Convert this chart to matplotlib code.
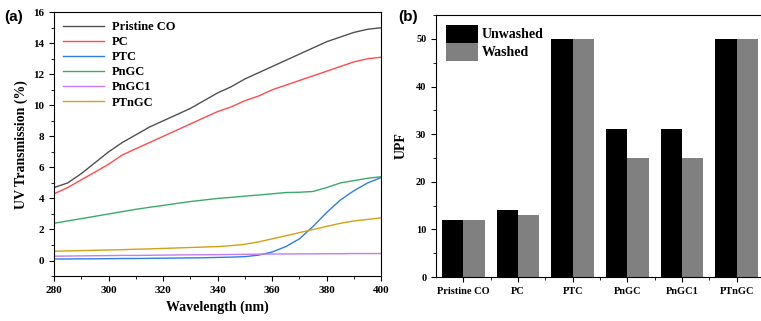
import matplotlib
matplotlib.use("Agg")
import matplotlib.pyplot as plt
import numpy as np
from matplotlib.ticker import MultipleLocator, FixedLocator

wl = [280, 285, 290, 295, 300, 305, 310, 315, 320, 325, 330, 335, 340, 345, 350,
      355, 360, 365, 370, 375, 380, 385, 390, 395, 400]
pristine = [4.7, 5.0, 5.6, 6.3, 7.0, 7.6, 8.1, 8.6, 9.0, 9.4, 9.8, 10.3, 10.8, 11.2, 11.7,
            12.1, 12.5, 12.9, 13.3, 13.7, 14.1, 14.4, 14.7, 14.9, 15.0]
pc = [4.3, 4.7, 5.2, 5.7, 6.2, 6.8, 7.2, 7.6, 8.0, 8.4, 8.8, 9.2, 9.6, 9.9, 10.3,
      10.6, 11.0, 11.3, 11.6, 11.9, 12.2, 12.5, 12.8, 13.0, 13.1]
ptc = [0.10, 0.10, 0.11, 0.11, 0.12, 0.13, 0.13, 0.14, 0.15, 0.16, 0.17, 0.18, 0.20, 0.22, 0.25,
       0.35, 0.55, 0.90, 1.40, 2.20, 3.10, 3.90, 4.50, 5.00, 5.35]
pngc = [2.40, 2.55, 2.70, 2.85, 3.00, 3.15, 3.30, 3.43, 3.55, 3.68, 3.80, 3.90, 4.00, 4.07, 4.15,
        4.22, 4.30, 4.38, 4.40, 4.45, 4.70, 5.00, 5.15, 5.30, 5.40]
pngc1 = [0.28, 0.29, 0.30, 0.31, 0.32, 0.33, 0.33, 0.34, 0.35, 0.36, 0.37, 0.37, 0.38, 0.39, 0.40,
         0.41, 0.42, 0.42, 0.43, 0.43, 0.44, 0.44, 0.45, 0.45, 0.45]
ptngc = [0.60, 0.62, 0.64, 0.66, 0.68, 0.70, 0.73, 0.75, 0.78, 0.81, 0.84, 0.87, 0.90, 0.96, 1.05,
         1.20, 1.40, 1.60, 1.80, 2.00, 2.20, 2.40, 2.55, 2.65, 2.75]

series_names = ["Pristine CO", "PC", "PTC", "PnGC", "PnGC1", "PTnGC"]
series_vals = [pristine, pc, ptc, pngc, pngc1, ptngc]
series_colors = ["#505050", "#ff4b4b", "#2f7de1", "#3aaa6a", "#c47cf0", "#d4a017"]

categories = ["Pristine CO", "PC", "PTC", "PnGC", "PnGC1", "PTnGC"]
unwashed = [12, 14, 50, 31, 31, 50]
washed = [12, 13, 50, 25, 25, 50]

serif = "Liberation Serif"
fig = plt.figure(figsize=(7.61, 3.21), dpi=100)

# ---- panel (a)
ax1 = fig.add_axes([0.071, 0.140, 0.430, 0.822])
for name, vals, c in zip(series_names, series_vals, series_colors):
    ax1.plot(wl, vals, color=c, lw=1.0, label=name)
ax1.set_xlim(280, 400)
ax1.set_ylim(-1, 16)
ax1.xaxis.set_major_locator(MultipleLocator(20))
ax1.xaxis.set_minor_locator(MultipleLocator(10))
ax1.yaxis.set_major_locator(MultipleLocator(2))
ax1.yaxis.set_minor_locator(MultipleLocator(1))
ax1.tick_params(which="both", direction="out", labelsize=8)
ax1.tick_params(which="major", length=3.5)
ax1.tick_params(which="minor", length=2)
for t in ax1.get_xticklabels() + ax1.get_yticklabels():
    t.set_fontfamily(serif); t.set_fontweight("bold")
ax1.set_xlabel("Wavelength (nm)", fontfamily=serif, fontweight="bold", fontsize=10)
ax1.set_ylabel("UV Transmission (%)", fontfamily=serif, fontweight="bold", fontsize=10, labelpad=4)
leg = ax1.legend(loc="upper left", frameon=False, handlelength=3.3, handletextpad=0.6,
                 labelspacing=0.25, borderaxespad=0.3,
                 prop={"family": serif, "weight": "bold", "size": 9})
fig.text(0.005, 0.935, "(a)", fontfamily="Liberation Sans", fontweight="bold", fontsize=11)

# ---- panel (b)
ax2 = fig.add_axes([0.573, 0.137, 0.431, 0.816])
x = np.arange(len(categories))
w = 0.39
ax2.bar(x - w / 2, unwashed, width=w, color="black", label="Unwashed")
ax2.bar(x + w / 2, washed, width=w, color="#808080", label="Washed")
ax2.set_xlim(-0.5, len(categories) - 0.5)
ax2.set_ylim(0, 55)
ax2.set_xticks(x)
ax2.set_xticklabels(categories)
ax2.xaxis.set_minor_locator(FixedLocator(x[:-1] + 0.5))
ax2.yaxis.set_major_locator(MultipleLocator(10))
ax2.yaxis.set_minor_locator(MultipleLocator(5))
ax2.tick_params(which="both", direction="out", labelsize=7.5)
ax2.tick_params(which="major", length=3.5)
ax2.tick_params(which="minor", length=2)
for t in ax2.get_xticklabels() + ax2.get_yticklabels():
    t.set_fontfamily(serif); t.set_fontweight("bold")
ax2.set_ylabel("UPF", fontfamily=serif, fontweight="bold", fontsize=10, labelpad=6)
ax2.legend(loc="upper left", frameon=False, handlelength=2.3, handleheight=1.6,
           handletextpad=0.3, labelspacing=0.0, borderaxespad=0.3,
           prop={"family": serif, "weight": "bold", "size": 10})
fig.text(0.523, 0.935, "(b)", fontfamily="Liberation Sans", fontweight="bold", fontsize=11)

fig.savefig("out.png", dpi=100)
